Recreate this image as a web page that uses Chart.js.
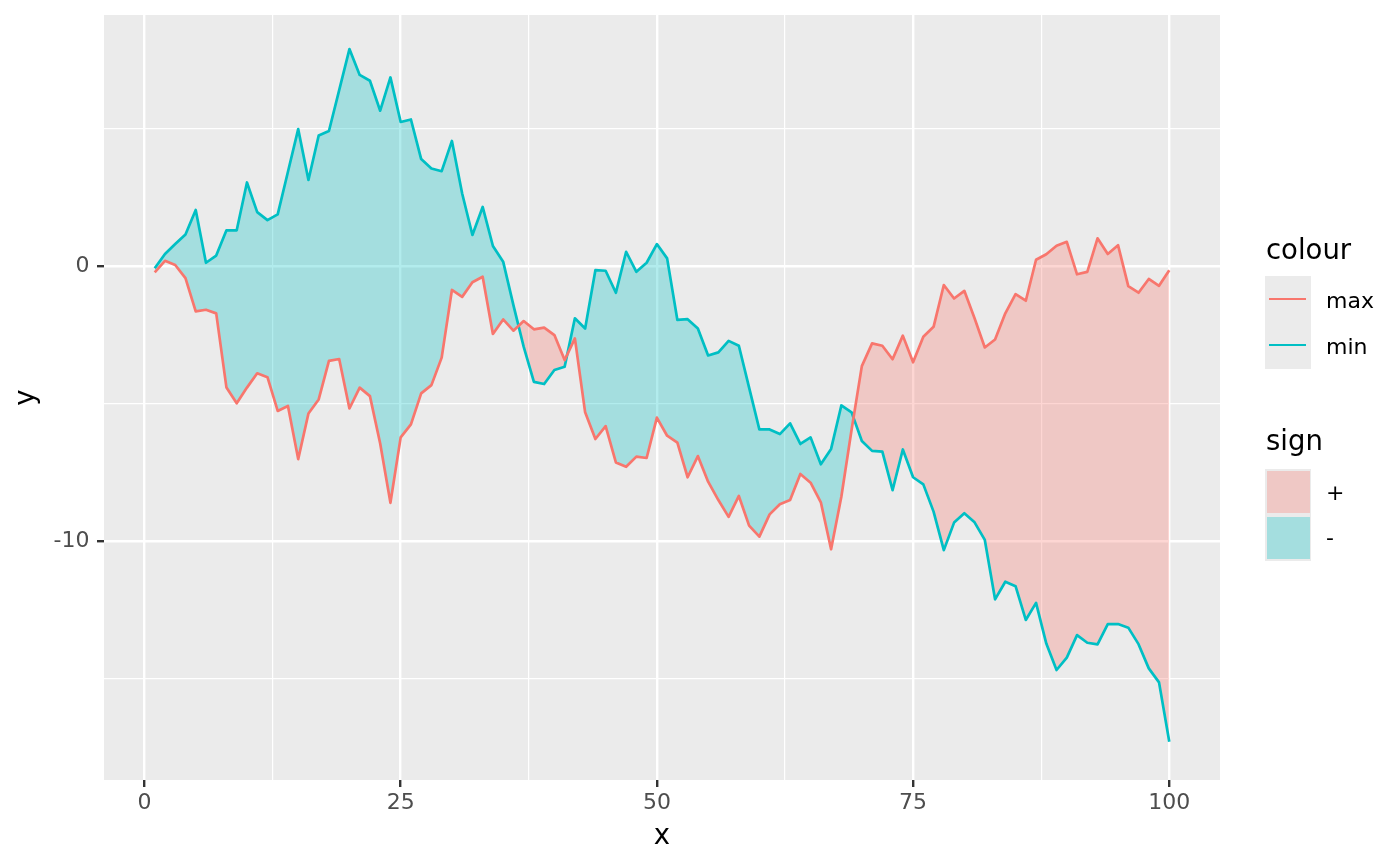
<!DOCTYPE html>
<html>
<head>
<meta charset="utf-8">
<script src="https://cdn.jsdelivr.net/npm/chart.js@4.4.1/dist/chart.umd.min.js"></script>
<style>
  html, body { margin:0; padding:0; background:#FFFFFF; }
  #wrap { position:relative; width:1400px; height:866px; }
  canvas { position:absolute; left:0; top:0; }
  .ttl { position:absolute; font-family:'DejaVu Sans'; font-size:27.5px; line-height:27.5px; color:#000000; white-space:nowrap; }
  .lab { position:absolute; font-family:'DejaVu Sans'; font-size:22px; line-height:22px; color:#000000; white-space:nowrap; }
  .box { position:absolute; }
</style>
</head>
<body>
<div id="wrap">
  <canvas id="c" width="1400" height="866"></canvas>
  <div id="legend"></div>
</div>
<script>
// ---------------- data ----------------
const xs = [1,2,3,4,5,6,7,8,9,10,11,12,13,14,15,16,17,18,19,20,
  21,22,23,24,25,26,27,28,29,30,31,32,33,34,35,36,37,38,39,40,
  41,42,43,44,45,46,47,48,49,50,51,52,53,54,55,56,57,58,59,60,
  61,62,63,64,65,66,67,68,69,70,71,72,73,74,75,76,77,78,79,80,
  81,82,83,84,85,86,87,88,89,90,91,92,93,94,95,96,97,98,99,100];

const maxVals = [-0.23,0.19,0.04,-0.44,-1.65,-1.59,-1.72,-4.42,-4.99,-4.42,
  -3.90,-4.04,-5.27,-5.09,-7.02,-5.36,-4.85,-3.45,-3.38,-5.18,
  -4.42,-4.73,-6.45,-8.61,-6.23,-5.76,-4.63,-4.33,-3.33,-0.87,
  -1.12,-0.59,-0.39,-2.47,-1.94,-2.35,-2.00,-2.30,-2.24,-2.51,
  -3.42,-2.63,-5.32,-6.29,-5.82,-7.14,-7.30,-6.93,-6.98,-5.51,
  -6.17,-6.42,-7.68,-6.91,-7.84,-8.51,-9.12,-8.36,-9.44,-9.84,
  -9.03,-8.66,-8.51,-7.56,-7.88,-8.59,-10.30,-8.39,-5.95,-3.64,
  -2.81,-2.90,-3.39,-2.53,-3.50,-2.57,-2.21,-0.69,-1.18,-0.90,
  -1.90,-2.96,-2.67,-1.72,-1.02,-1.26,0.23,0.43,0.74,0.88,
  -0.30,-0.21,1.01,0.44,0.76,-0.73,-0.97,-0.47,-0.72,-0.15];

const minVals = [-0.08,0.44,0.80,1.15,2.04,0.12,0.38,1.30,1.30,3.04,
  1.96,1.67,1.88,3.43,4.98,3.13,4.75,4.91,6.40,7.89,
  6.95,6.74,5.65,6.86,5.24,5.33,3.89,3.55,3.45,4.55,
  2.64,1.13,2.15,0.73,0.16,-1.42,-2.93,-4.21,-4.29,-3.78,
  -3.66,-1.90,-2.27,-0.15,-0.17,-0.97,0.52,-0.21,0.12,0.80,
  0.28,-1.96,-1.93,-2.27,-3.25,-3.14,-2.72,-2.90,-4.42,-5.94,
  -5.94,-6.11,-5.72,-6.47,-6.23,-7.21,-6.65,-5.07,-5.32,-6.36,
  -6.72,-6.75,-8.15,-6.67,-7.68,-7.94,-8.93,-10.33,-9.33,-8.99,
  -9.32,-9.96,-12.12,-11.48,-11.64,-12.87,-12.25,-13.73,-14.69,-14.24,
  -13.42,-13.70,-13.76,-13.02,-13.02,-13.15,-13.75,-14.63,-15.14,-17.30];

const seriesNames = ['max', 'min'];
const signLabels = ['+', '-'];
const xMajorTicks = [0, 25, 50, 75, 100];
const xMinorTicks = [12.5, 37.5, 62.5, 87.5];
const yMajorTicks = [-10, 0];
const yMinorTicks = [-15, -5, 5];

// ---------------- styling ----------------
const RED = '#F8766D', CYAN = '#00BFC4';
const RED_FILL = 'rgba(248,118,109,0.3)', CYAN_FILL = 'rgba(0,191,196,0.3)';
const FONT = 'DejaVu Sans';

const panelBg = {
  id: 'panelBg',
  beforeDraw(chart) {
    const {ctx, chartArea: a} = chart;
    ctx.save();
    ctx.fillStyle = '#EBEBEB';
    ctx.fillRect(a.left, a.top, a.right - a.left, a.bottom - a.top);
    ctx.restore();
  }
};

function gridFor(major) {
  return {
    color: '#FFFFFF',
    lineWidth: c => (c.tick && major.includes(c.tick.value)) ? 2.4 : 1.2,
    drawTicks: true,
    tickLength: 7,
    tickWidth: 2.4,
    tickColor: c => (c.tick && major.includes(c.tick.value)) ? '#333333' : 'rgba(0,0,0,0)'
  };
}

const toPts = vals => xs.map((x, i) => ({x: x, y: vals[i]}));

new Chart(document.getElementById('c'), {
  type: 'line',
  data: {
    datasets: [
      {
        label: seriesNames[0], data: toPts(maxVals),
        borderColor: RED, borderWidth: 2.7, pointRadius: 0, tension: 0,
        borderJoinStyle: 'round',
        fill: {target: 1, above: RED_FILL, below: CYAN_FILL}
      },
      {
        label: seriesNames[1], data: toPts(minVals),
        borderColor: CYAN, borderWidth: 2.7, pointRadius: 0, tension: 0,
        borderJoinStyle: 'round', fill: false
      }
    ]
  },
  options: {
    responsive: false,
    animation: false,
    devicePixelRatio: 1,
    layout: {padding: {left: 0, top: 15, right: 180, bottom: 0}},
    plugins: {
      legend: {display: false},
      tooltip: {enabled: false},
      filler: {drawTime: 'beforeDatasetsDraw'}
    },
    scales: {
      x: {
        type: 'linear', min: -3.95, max: 104.95,
        afterBuildTicks: s => { s.ticks = xMajorTicks.concat(xMinorTicks).sort((a, b) => a - b).map(v => ({value: v})); },
        afterFit: s => { s.height = 86; s.paddingLeft = 0; s.paddingRight = 0; s.paddingTop = 0; s.paddingBottom = 0; },
        border: {display: false},
        grid: gridFor(xMajorTicks),
        ticks: {
          autoSkip: false, maxRotation: 0, padding: 3.5, color: '#4D4D4D',
          font: {family: FONT, size: 22},
          callback: v => xMajorTicks.includes(v) ? String(v) : ''
        },
        title: {display: true, text: 'x', color: '#000000', font: {family: FONT, size: 27.5}, padding: {top: 0, bottom: 13}}
      },
      y: {
        type: 'linear', min: -18.69, max: 9.13,
        afterBuildTicks: s => { s.ticks = yMinorTicks.concat(yMajorTicks).sort((a, b) => a - b).map(v => ({value: v})); },
        afterFit: s => { s.width = 104; s.paddingLeft = 0; s.paddingRight = 0; s.paddingTop = 0; s.paddingBottom = 0; },
        border: {display: false},
        grid: gridFor(yMajorTicks),
        ticks: {
          autoSkip: false, padding: 7.5, color: '#4D4D4D',
          font: {family: FONT, size: 22},
          callback: v => yMajorTicks.includes(v) ? String(v) : ''
        },
        title: {display: true, text: 'y', color: '#000000', font: {family: FONT, size: 27.5}, padding: {top: 10, bottom: 0}}
      }
    }
  },
  plugins: [panelBg]
});

// ---------------- legend (HTML text) ----------------
const leg = document.getElementById('legend');
function add(cls, text, css) {
  const d = document.createElement('div');
  d.className = cls;
  if (text !== null) d.textContent = text;
  Object.assign(d.style, css);
  leg.appendChild(d);
}
// colour legend
add('ttl', 'colour', {left: '1266px', top: '235.7px'});
add('box', null, {left: '1265px', top: '276px', width: '46px', height: '93px', background: '#EBEBEB'});
const lineCols = [RED, CYAN];
seriesNames.forEach((n, i) => {
  add('box', null, {left: '1269px', top: (297.8 + i * 46) + 'px', width: '37px', height: '2.7px', background: lineCols[i]});
  add('lab', n, {left: '1326px', top: (289.7 + i * 45.8) + 'px'});
});
// sign legend
add('ttl', 'sign', {left: '1266px', top: '427.4px'});
add('box', null, {left: '1265px', top: '469px', width: '46px', height: '92px', background: '#EBEBEB'});
const fillCols = [RED_FILL, CYAN_FILL];
const signTops = [482.4, 527.4];
signLabels.forEach((s, i) => {
  add('box', null, {left: '1266.5px', top: (470.8 + i * 46) + 'px', width: '43px', height: '42px', background: fillCols[i]});
  add('lab', s, {left: '1326px', top: signTops[i] + 'px'});
});
</script>
</body>
</html>
